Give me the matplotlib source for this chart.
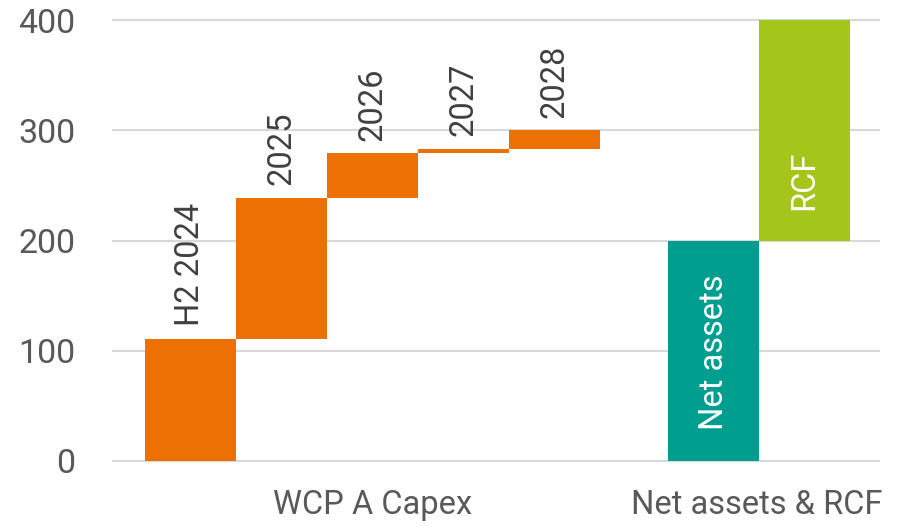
import numpy as np
import matplotlib.pyplot as plt

plt.rcParams['font.family'] = ['Roboto', 'DejaVu Sans']

# WCP A capex waterfall steps
capex_labels = ['H2 2024', '2025', '2026', '2027', '2028']
capex_values = [111, 128, 40, 4, 17]

# funding side
fund_labels = ['Net assets', 'RCF']
fund_values = [200, 200]

group_labels = ['WCP A Capex', 'Net assets & RCF']
yticks = [0, 100, 200, 300, 400]

orange = '#EC7004'
teal = '#009E8E'
lime = '#A4C61A'

fig = plt.figure(figsize=(9.01, 5.26), dpi=100)
W, H = 901, 526
ax = fig.add_axes([112 / W, 1 - 464.3 / H, 768 / W, (464.3 - 16.7) / H])

gap = 0.36
capex_x = np.arange(len(capex_values))
left_edge = -0.5 - gap
split = capex_x[-1] + 0.5 + gap
fund_x = split + 0.39 + 0.5 + np.arange(len(fund_values))
right_edge = left_edge + 768 / 91

capex_tops = np.cumsum(capex_values)
capex_bottoms = capex_tops - np.array(capex_values)
ax.bar(capex_x, capex_values, bottom=capex_bottoms, width=1.0, color=orange, zorder=3)

fund_tops = np.cumsum(fund_values)
fund_bottoms = fund_tops - np.array(fund_values)
ax.bar(fund_x, fund_values, bottom=fund_bottoms, width=1.0, color=[teal, lime], zorder=3)

for x, top, lab in zip(capex_x, capex_tops, capex_labels):
    ax.annotate(lab, (x, top), xytext=(0, 9), textcoords='offset points',
                rotation=90, rotation_mode='anchor', ha='left', va='center',
                fontsize=23.5, color='#404040')

for x, bot, lab in zip(fund_x, fund_bottoms, fund_labels):
    ax.annotate(lab, (x, bot), xytext=(0, 22), textcoords='offset points',
                rotation=90, rotation_mode='anchor', ha='left', va='center',
                fontsize=23.5, color='white', zorder=4)

ax.set_xlim(left_edge, right_edge)
ax.set_ylim(-3, 403)
ax.set_yticks(yticks)
ax.set_yticklabels([str(v) for v in yticks], fontsize=24.5, color='#595959')
ax.tick_params(axis='y', length=0, pad=26.5)
ax.set_xticks([])
ax.grid(axis='y', color='#d9d9d9', linewidth=1.5, zorder=0)
for s in ax.spines.values():
    s.set_visible(False)

group_centers = [(left_edge + split) / 2, (split + right_edge) / 2]
for cx, lab in zip(group_centers, group_labels):
    ax.annotate(lab, (cx, 0), xytext=(0, -32), textcoords='offset points',
                ha='center', va='center', fontsize=23.5, color='#595959',
                annotation_clip=False)

fig.savefig('out.png', dpi=100)
